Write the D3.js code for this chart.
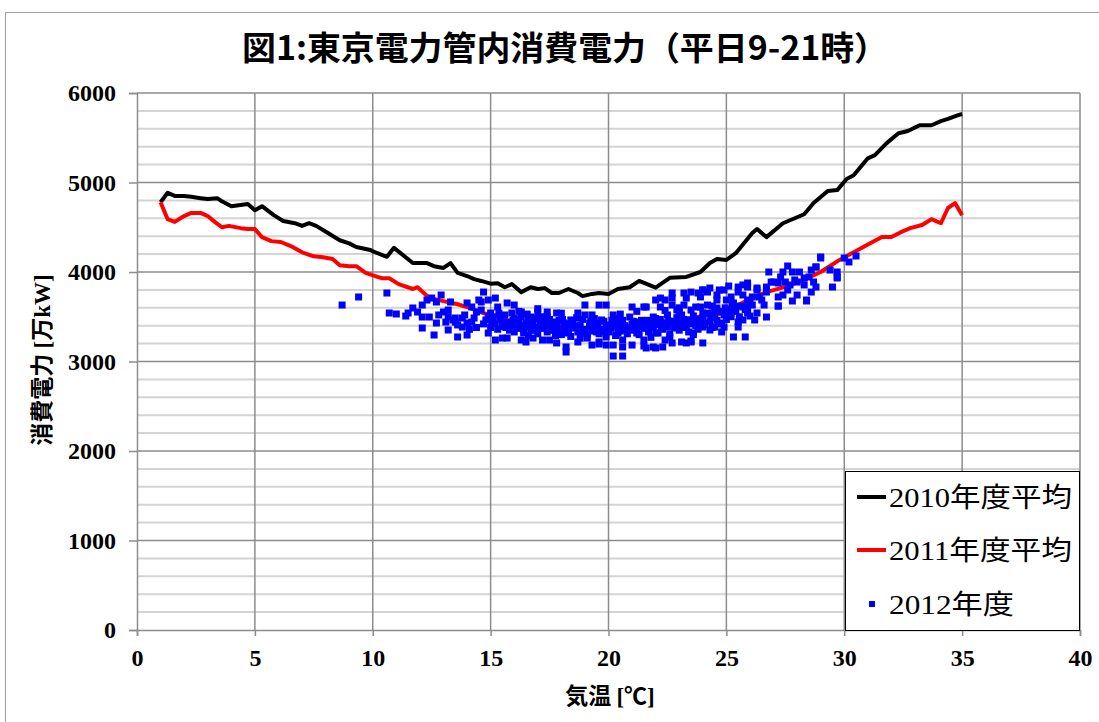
<!DOCTYPE html>
<html>
<head>
<meta charset="utf-8">
<script src="https://cdn.jsdelivr.net/npm/d3@7"></script>
<style>
  body { margin: 0; background: #fff; }
  svg { display: block; }
</style>
</head>
<body>
<svg id="chart" width="1099" height="722"></svg>
<script>
// 2010年度平均 (気温, 消費電力)
const temps2010 = [1.0, 1.3, 1.6, 2.0, 2.3, 2.7, 3.0, 3.4, 3.6, 4.0, 4.7, 5.0, 5.3, 5.8, 6.2, 6.7, 7.0, 7.3, 7.6, 8.1,
  8.6, 9.0, 9.3, 9.9, 10.2, 10.6, 10.9, 11.7, 12.3, 12.6, 13.0, 13.3, 13.6, 14.0, 14.3, 14.6, 15.0, 15.3, 15.6, 15.9,
  16.3, 16.7, 17.0, 17.3, 17.6, 17.9, 18.3, 18.7, 18.9, 19.3, 19.6, 20.0, 20.4, 20.9, 21.3, 22.0, 22.6, 23.3, 23.9, 24.3,
  24.6, 25.0, 25.4, 26.1, 26.3, 26.7, 27.4, 28.3, 28.7, 29.3, 29.7, 30.1, 30.4, 31.0, 31.3, 31.8, 32.3, 32.7, 33.2, 33.7,
  34.1, 34.4, 34.8, 35.0];
const power2010 = [4780, 4885, 4850, 4850, 4840, 4825, 4815, 4825, 4790, 4735, 4760, 4690, 4735, 4635, 4570, 4545, 4515, 4545, 4515, 4435,
  4355, 4320, 4280, 4245, 4210, 4170, 4270, 4100, 4100, 4065, 4045, 4100, 3990, 3955, 3920, 3900, 3870, 3875, 3830, 3865,
  3775, 3830, 3810, 3820, 3765, 3765, 3810, 3765, 3730, 3755, 3765, 3755, 3810, 3830, 3900, 3825, 3935, 3945, 4000, 4100,
  4145, 4135, 4210, 4435, 4480, 4390, 4545, 4645, 4770, 4905, 4915, 5040, 5080, 5270, 5305, 5440, 5550, 5575, 5640, 5640,
  5685, 5710, 5750, 5765];

// 2011年度平均
const temps2011 = [1.0, 1.3, 1.6, 2.0, 2.3, 2.7, 3.0, 3.3, 3.6, 3.9, 4.4, 4.7, 5.0, 5.3, 5.7, 6.1, 6.6, 7.0, 7.5, 7.9,
  8.3, 8.6, 9.0, 9.3, 9.7, 10.2, 10.4, 10.7, 11.1, 11.7, 11.9, 12.4, 13.0, 13.6, 14.1, 14.7, 15.5, 16.2, 17.0, 18.0,
  19.0, 20.0, 21.0, 22.0, 23.0, 24.0, 24.6, 25.3, 26.0, 26.7, 27.3, 28.1, 29.0, 29.8, 30.4, 31.1, 31.6, 32.0, 32.4, 32.8,
  33.3, 33.7, 34.1, 34.4, 34.7, 35.0];
const power2011 = [4780, 4590, 4560, 4625, 4660, 4660, 4625, 4560, 4500, 4515, 4490, 4480, 4480, 4390, 4345, 4335, 4280, 4220, 4175, 4165,
  4145, 4075, 4065, 4065, 3990, 3945, 3930, 3930, 3865, 3810, 3830, 3710, 3675, 3640, 3600, 3540, 3480, 3420, 3385, 3375,
  3365, 3365, 3385, 3420, 3460, 3510, 3520, 3600, 3700, 3775, 3820, 3890, 4000, 4135, 4220, 4320, 4390, 4390, 4445, 4490,
  4525, 4590, 4545, 4715, 4770, 4635];

// 2012年度 (気温, 消費電力)
const obs2012 = [
  [8.7,3631],[9.4,3721],[10.6,3765],[10.7,3542],[11.0,3531],[11.4,3508],[11.5,3542],[11.7,3598],[11.9,3553],[12.1,3631],
  [12.1,3497],[12.1,3374],[12.3,3687],[12.4,3497],[12.5,3709],[12.6,3296],[12.7,3665],[12.7,3430],[12.9,3743],[13.0,3553],
  [13.1,3441],[13.2,3575],[13.2,3352],[13.3,3665],[13.4,3464],[13.5,3486],[13.6,3274],[13.6,3408],[13.8,3486],[13.8,3385],
  [14.0,3296],[14.0,3430],[14.0,3654],[14.2,3609],[14.3,3486],[14.4,3553],[14.5,3687],[14.6,3575],[14.6,3665],[14.7,3776],
  [14.8,3464],[14.9,3318],[14.9,3687],[15.0,3542],[15.1,3430],[15.2,3240],[15.2,3709],[15.3,3609],[15.4,3486],[15.5,3262],
  [15.5,3430],[15.7,3654],[15.7,3262],[15.9,3542],[16.0,3631],[16.0,3330],[16.1,3464],[16.3,3240],[16.3,3553],[16.4,3352],
  [16.5,3218],[16.5,3430],[16.7,3497],[16.8,3352],[16.8,3262],[17.0,3553],[17.1,3385],[17.2,3240],[17.3,3464],[17.4,3553],
  [17.5,3240],[17.6,3352],[17.7,3441],[17.8,3207],[17.8,3542],[17.9,3318],[18.1,3430],[18.2,3162],[18.2,3106],[18.2,3318],
  [18.4,3464],[18.5,3374],[18.7,3218],[18.7,3542],[18.9,3318],[19.0,3631],[19.1,3262],[19.2,3430],[19.3,3184],[19.3,3520],
  [19.5,3330],[19.6,3631],[19.6,3218],[19.7,3464],[19.9,3274],[20.0,3408],[20.2,3520],[20.2,3061],[20.2,3184],[20.4,3318],
  [20.5,3441],[20.6,3240],[20.8,3374],[20.9,3497],[21.0,3609],[21.0,3184],[21.2,3318],[21.3,3441],[21.5,3240],[21.6,3151],
  [21.6,3609],[21.7,3374],[21.9,3162],[21.9,3497],[22.0,3687],[22.1,3318],[22.2,3709],[22.3,3430],[22.4,3240],[22.5,3520],
  [22.7,3631],[22.7,3765],[22.7,3207],[22.9,3374],[23.0,3553],[23.1,3218],[23.3,3464],[23.3,3709],[23.5,3218],[23.5,3776],
  [23.6,3318],[23.7,3609],[23.8,3765],[23.8,3464],[24.0,3385],[24.0,3799],[24.0,3542],[24.2,3631],[24.3,3352],[24.3,3821],
  [24.4,3497],[24.6,3743],[24.6,3598],[24.7,3799],[24.9,3385],[25.0,3687],[25.1,3843],[25.2,3542],[25.3,3274],[25.3,3654],
  [25.5,3441],[25.5,3832],[25.7,3743],[25.7,3464],[25.9,3609],[25.9,3877],[26.0,3508],[26.1,3721],[26.3,3799],[26.6,3631],
  [26.7,3832],[26.9,3888],[27.2,3877],[27.4,3743],[27.7,3855],[27.8,3676],[28.0,3888],[28.8,3832],
  [26.8,4000],[27.4,4000],[27.6,4067],[27.8,4000],[28.1,4000],[27.3,3944],[27.0,3888],[27.5,3888],[27.9,3911],[28.3,3933],
  [28.5,3944],[28.6,4022],[28.8,4056],[29.0,4156],[28.7,3888],[28.3,3855],[28.0,3743],[28.4,3687],[27.6,3799],[27.2,3620],
  [27.2,3721],[29.4,4022],[29.7,4000],[29.7,3933],[29.5,3832],[30.0,4156],[30.2,4112],[30.5,4179],[26.7,3776],[26.4,3721],
  [26.3,3821],[25.9,3832],[25.7,3855],[25.5,3776],[25.2,3721],[24.9,3799],[25.9,3687],[26.1,3631],[26.5,3687],[25.7,3609],
  [25.3,3609],[25.0,3542],[25.9,3542],[26.3,3542],[26.7,3497],[25.5,3385],[25.8,3274],[26.2,3464],[24.6,3687],[24.2,3776],
  [24.0,3799],[23.9,3721],[23.2,3765],[22.7,3709],[22.4,3687],[23.2,3631],[22.2,3609],[21.5,3609],[19.9,3631],[22.9,3575],
  [23.5,3575],[23.9,3609],[24.4,3620],[24.8,3330],[24.5,3385],[24.0,3207],[23.3,3207],[23.5,3229],[22.6,3274],[22.3,3162],
  [22.0,3151],[21.5,3173],[20.6,3162],[20.6,3061],[19.9,3184],[19.6,3195],[29.7,3944],[29.0,4168],[28.8,4056],[28.4,3676],
  [28.6,3776],[27.2,3620],
  [15.0,3380],[15.1,3500],[15.2,3420],[15.3,3360],[15.4,3470],[15.5,3390],[15.6,3520],[15.7,3440],[15.8,3350],[15.9,3410],
  [16.0,3480],[16.1,3370],[16.2,3430],[16.3,3500],[16.4,3320],[16.5,3390],[16.6,3460],[16.7,3350],[16.8,3420],[16.9,3480],
  [17.0,3310],[17.1,3440],[17.2,3370],[17.3,3400],[17.4,3330],[17.5,3470],[17.6,3410],[17.7,3350],[17.8,3390],[17.9,3460],
  [18.0,3300],[18.1,3370],[18.2,3420],[18.3,3350],[18.4,3280],[18.5,3440],[18.6,3390],[18.7,3330],[18.8,3410],[18.9,3470],
  [19.0,3360],[19.1,3300],[19.2,3390],[19.3,3340],[19.4,3430],[19.5,3380],[19.6,3310],[19.7,3360],[19.8,3450],[19.9,3400],
  [20.0,3330],[20.1,3370],[20.2,3420],[20.3,3290],[20.4,3380],[20.5,3340],[20.6,3460],[20.7,3400],[20.8,3310],[20.9,3360],
  [21.0,3420],[21.1,3350],[21.2,3390],[21.3,3300],[21.4,3460],[21.5,3370],[21.6,3410],[21.7,3330],[21.8,3440],[21.9,3380],
  [22.0,3320],[22.1,3410],[22.2,3470],[22.3,3360],[22.4,3430],[22.5,3390],[22.6,3310],[22.7,3450],[22.8,3380],[22.9,3490],
  [23.0,3350],[23.1,3420],[23.2,3470],[23.3,3390],[23.4,3330],[23.5,3450],[23.6,3510],[23.7,3400],[23.8,3360],[23.9,3440],
  [24.0,3490],[24.1,3410],[24.2,3540],[24.3,3450],[24.4,3380],[24.5,3510],[24.6,3460],[24.7,3560],[24.8,3430],[24.9,3520],
  [25.0,3470],[25.1,3580],[25.2,3500],[25.4,3560],[25.6,3620],[25.8,3580],[26.0,3650],
  [15.05,3450],[15.35,3540],[15.65,3380],[15.95,3460],[16.25,3400],[16.55,3530],[16.85,3380],[17.15,3500],[17.45,3430],
  [17.75,3290],[18.05,3470],[18.35,3400],[18.65,3490],[18.95,3350],[19.25,3450],[19.55,3410],[19.85,3330],[20.15,3460],
  [20.45,3400],[20.75,3350],[21.05,3450],[21.35,3390],[21.65,3460],[21.95,3420],[22.25,3380],[22.55,3450],[22.85,3420],
  [23.15,3380],[23.45,3420],[23.75,3470],[24.05,3430],[24.35,3500],[24.65,3420],[24.95,3600],[25.25,3630],[25.55,3500],
  [13.5,3440],[13.9,3520],[14.2,3440],[14.4,3380],[14.7,3420],[14.9,3500],[13.2,3500],[12.8,3520],[14.1,3360],
  [16.2,3560],[17.0,3590],[18.0,3540],[19.0,3520],[20.5,3530],[21.2,3560],[22.4,3570],[23.0,3600],[16.6,3290],[18.8,3260],
  [21.8,3270],[23.6,3300],[17.4,3500],[19.4,3480],[20.3,3480],[22.0,3480],[24.5,3560],[23.1,3520]
];

const xTicks = [0, 5, 10, 15, 20, 25, 30, 35, 40];
const yTicks = [0, 1000, 2000, 3000, 4000, 5000, 6000];
const legendLabels = ["2010年度平均", "2011年度平均", "2012年度"];

const svg = d3.select("#chart");
const x = d3.scaleLinear().domain([0, 40]).range([137, 1080]);
const y = d3.scaleLinear().domain([0, 6000]).range([630, 93]);

const serif = "'Liberation Serif', 'Times New Roman', 'Noto Sans CJK JP', serif";
const gothic = "'Noto Sans CJK JP', sans-serif";

// outer chart border
svg.append("rect")
  .attr("x", 5.5).attr("y", 12.5)
  .attr("width", 1110).attr("height", 730)
  .attr("fill", "#fff")
  .attr("stroke", "#a0a0a0");

// title
svg.append("text")
  .attr("x", 565).attr("y", 60)
  .attr("text-anchor", "middle")
  .attr("font-family", gothic)
  .attr("font-weight", "bold")
  .attr("font-size", 33)
  .attr("textLength", 646)
  .attr("lengthAdjust", "spacingAndGlyphs")
  .text("図1:東京電力管内消費電力（平日9-21時）");

// grid
const grid = svg.append("g");
grid.selectAll("line.minor")
  .data(d3.range(200, 6001, 200).filter(v => v % 1000 !== 0))
  .join("line")
  .attr("x1", x(0)).attr("x2", x(40))
  .attr("y1", d => y(d)).attr("y2", d => y(d))
  .attr("stroke", "#d4d4d4")
  .attr("stroke-width", 2);
grid.selectAll("line.major")
  .data(yTicks.filter(v => v > 0))
  .join("line")
  .attr("x1", x(0)).attr("x2", x(40))
  .attr("y1", d => y(d)).attr("y2", d => y(d))
  .attr("stroke", "#8c8c8c")
  .attr("stroke-width", 1.5);
grid.selectAll("line.vert")
  .data(xTicks.filter(v => v > 0))
  .join("line")
  .attr("x1", d => x(d)).attr("x2", d => x(d))
  .attr("y1", y(0)).attr("y2", y(6000))
  .attr("stroke", "#8c8c8c")
  .attr("stroke-width", 1.5);

// axes
const yAxis = svg.append("g")
  .attr("transform", `translate(${x(0)},0)`)
  .call(d3.axisLeft(y).tickValues(yTicks).tickSize(8).tickPadding(13).tickFormat(d3.format("d")));
const xAxis = svg.append("g")
  .attr("transform", `translate(0,${y(0)})`)
  .call(d3.axisBottom(x).tickValues(xTicks).tickSize(6).tickPadding(13).tickFormat(d3.format("d")));
[xAxis, yAxis].forEach(a => {
  a.select(".domain").attr("stroke", "#8c8c8c").attr("stroke-width", 1.5);
  a.selectAll(".tick line").attr("stroke", "#8c8c8c").attr("stroke-width", 1.5);
  a.selectAll(".tick text")
    .attr("font-family", serif)
    .attr("font-weight", "bold")
    .attr("font-size", 24)
    .attr("fill", "#000");
});

// lines
const line = d3.line().x(d => x(d[0])).y(d => y(d[1]));
svg.append("path")
  .datum(d3.zip(temps2010, power2010))
  .attr("d", line)
  .attr("fill", "none")
  .attr("stroke", "#000")
  .attr("stroke-width", 4)
  .attr("stroke-linejoin", "round");
svg.append("path")
  .datum(d3.zip(temps2011, power2011))
  .attr("d", line)
  .attr("fill", "none")
  .attr("stroke", "#ff0000")
  .attr("stroke-width", 4)
  .attr("stroke-linejoin", "round");

// scatter 2012
svg.append("g")
  .selectAll("rect")
  .data(obs2012)
  .join("rect")
  .attr("x", d => x(d[0]) - 3.5)
  .attr("y", d => y(d[1]) - 3.5)
  .attr("width", 7).attr("height", 7)
  .attr("fill", "#0000ff");

// axis titles
const xt = svg.append("text")
  .attr("x", 610).attr("y", 704)
  .attr("text-anchor", "middle")
  .attr("font-weight", "bold")
  .attr("font-size", 23);
xt.append("tspan").attr("font-family", gothic).text("気温 ");
xt.append("tspan").attr("font-family", serif).text("[℃]");
const yt = svg.append("text")
  .attr("transform", "translate(50,360) rotate(-90)")
  .attr("text-anchor", "middle")
  .attr("font-weight", "bold")
  .attr("font-size", 23);
yt.append("tspan").attr("font-family", gothic).text("消費電力 ");
yt.append("tspan").attr("font-family", serif).text("[万kW]");

// legend
const lg = svg.append("g");
lg.append("rect")
  .attr("x", 845.5).attr("y", 471.5)
  .attr("width", 234).attr("height", 159)
  .attr("fill", "#fff")
  .attr("stroke", "#000")
  .attr("stroke-width", 1);
const rows = [497, 550, 604];
lg.append("line").attr("x1", 857).attr("x2", 886).attr("y1", rows[0]).attr("y2", rows[0])
  .attr("stroke", "#000").attr("stroke-width", 4);
lg.append("line").attr("x1", 857).attr("x2", 886).attr("y1", rows[1]).attr("y2", rows[1])
  .attr("stroke", "#ff0000").attr("stroke-width", 4);
lg.append("rect").attr("x", 869).attr("y", rows[2] - 3).attr("width", 6).attr("height", 6)
  .attr("fill", "#0000ff");
lg.selectAll("text")
  .data(legendLabels)
  .join("text")
  .attr("x", 889)
  .attr("y", (d, i) => rows[i] + 10)
  .attr("font-family", serif)
  .attr("font-size", 27)
  .attr("textLength", (d, i) => i < 2 ? 183 : 125)
  .attr("lengthAdjust", "spacingAndGlyphs")
  .text(d => d);
</script>
</body>
</html>
